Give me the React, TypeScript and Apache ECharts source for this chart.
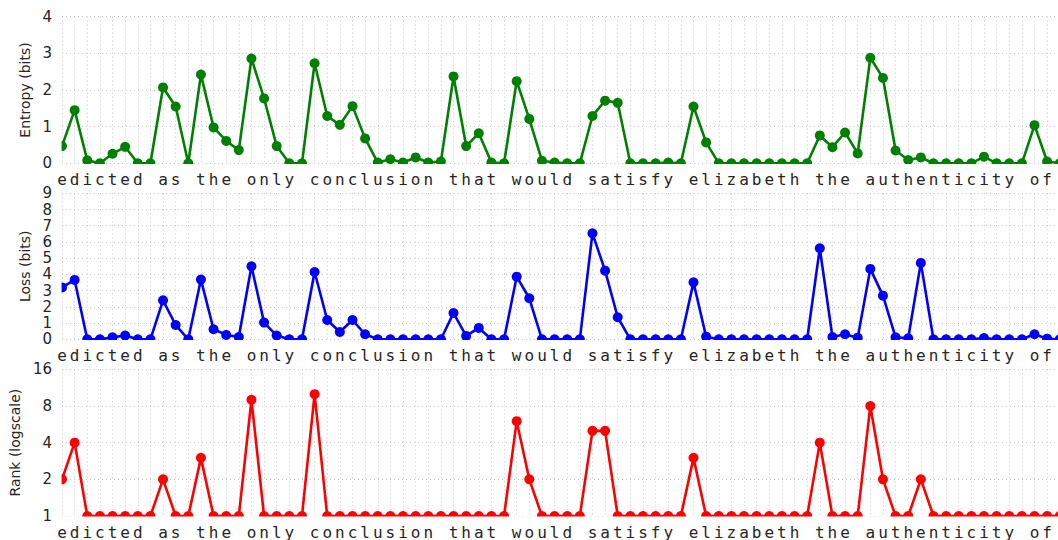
import React, { useEffect, useRef } from "react";
import * as echarts from "echarts";

// ---- data ----
const TEXT = "edicted as the only conclusion that would satisfy elizabeth the authenticity of ";
const chars: string[] = TEXT.split("");

const entropy: number[] = [
  0.47, 1.45, 0.08, 0, 0.26, 0.45, 0, 0, 2.07, 1.55,
  0, 2.42, 0.98, 0.61, 0.36, 2.86, 1.77, 0.47, 0, 0,
  2.73, 1.29, 1.05, 1.56, 0.68, 0.02, 0.11, 0.02, 0.16, 0.02,
  0.05, 2.37, 0.47, 0.82, 0.02, 0, 2.24, 1.21, 0.07, 0.02,
  0, 0, 1.29, 1.71, 1.65, 0, 0, 0, 0.02, 0,
  1.55, 0.57, 0, 0, 0, 0, 0, 0, 0, 0,
  0.76, 0.44, 0.84, 0.27, 2.88, 2.33, 0.35, 0.09, 0.16, 0,
  0, 0, 0, 0.18, 0, 0, 0, 1.04, 0.05, 0,
];

const loss: number[] = [
  3.2, 3.66, 0, 0, 0.12, 0.23, 0, 0, 2.4, 0.88,
  0, 3.68, 0.62, 0.27, 0.14, 4.5, 1.03, 0.23, 0, 0,
  4.15, 1.19, 0.45, 1.19, 0.31, 0, 0, 0, 0, 0,
  0, 1.62, 0.21, 0.7, 0, 0, 3.86, 2.53, 0, 0,
  0, 0, 6.53, 4.23, 1.36, 0, 0, 0, 0, 0,
  3.51, 0.16, 0, 0, 0, 0, 0, 0, 0, 0,
  5.61, 0.14, 0.31, 0.1, 4.34, 2.69, 0.12, 0.06, 4.71, 0,
  0, 0, 0, 0.08, 0, 0, 0, 0.31, 0.04, 0,
];

const rank: number[] = [
  2, 4, 1, 1, 1, 1, 1, 1, 2, 1,
  1, 3, 1, 1, 1, 9, 1, 1, 1, 1,
  10, 1, 1, 1, 1, 1, 1, 1, 1, 1,
  1, 1, 1, 1, 1, 1, 6, 2, 1, 1,
  1, 1, 5, 5, 1, 1, 1, 1, 1, 1,
  3, 1, 1, 1, 1, 1, 1, 1, 1, 1,
  4, 1, 1, 1, 8, 2, 1, 1, 2, 1,
  1, 1, 1, 1, 1, 1, 1, 1, 1, 1,
];

const yTitles = ["Entropy (bits)", "Loss (bits)", "Rank (logscale)"];
const colors = ["#008000", "#0000ff", "#ff0000"];

// ---- layout ----
const W = 1058;
const H = 540;
const LEFT = 62;
const STEP = 12.63;
const PLOT_W = STEP * (chars.length - 1);
const panels = [
  { top: 16.7, height: 146.6, nameGap: 25 },
  { top: 193.3, height: 146, nameGap: 25 },
  { top: 369.3, height: 146.7, nameGap: 35 },
];
const TEXT_COLOR = "#262626";
const GRID_COLOR = "#c8c8c8";

export default function App() {
  const ref = useRef<HTMLDivElement>(null);

  useEffect(() => {
    if (!ref.current) return;
    const chart = echarts.init(ref.current, undefined, { renderer: "svg" });
    const seriesValues = [entropy, loss, rank];

    const grid = panels.map((p) => ({
      left: LEFT,
      top: p.top,
      width: PLOT_W,
      height: p.height,
      containLabel: false,
      outerBoundsMode: "none",
    }));

    const xAxis = panels.map((_, i) => ({
      type: "value",
      gridIndex: i,
      min: 0,
      max: chars.length - 1,
      interval: 1,
      axisLine: { show: false },
      axisTick: { show: false },
      axisLabel: {
        show: true,
        margin: 8,
        fontFamily: "DejaVu Sans Mono",
        fontSize: 16,
        lineHeight: 16,
        color: TEXT_COLOR,
        showMinLabel: true,
        showMaxLabel: true,
        formatter: (v: number) => chars[Math.round(v)] ?? "",
      },
      splitLine: {
        show: true,
        lineStyle: { color: GRID_COLOR, width: 1, type: [1, 3] },
      },
    }));

    const yBase = (i: number) => ({
      gridIndex: i,
      name: yTitles[i],
      nameLocation: "middle",
      nameGap: panels[i].nameGap,
      nameRotate: 90,
      nameTextStyle: { fontFamily: "DejaVu Sans", fontSize: 14, color: TEXT_COLOR },
      axisLine: { show: false },
      axisTick: { show: false },
      axisLabel: {
        margin: 10,
        fontFamily: "DejaVu Sans",
        fontSize: 15,
        lineHeight: 15,
        color: TEXT_COLOR,
      },
      splitLine: {
        show: true,
        lineStyle: { color: GRID_COLOR, width: 1, type: [1, 3] },
      },
    });

    const yAxis = [
      { ...yBase(0), type: "value", min: 0, max: 4, interval: 1 },
      { ...yBase(1), type: "value", min: 0, max: 9, interval: 1 },
      { ...yBase(2), type: "log", logBase: 2, min: 1, max: 16 },
    ];

    const series = seriesValues.map((vals, i) => ({
      type: "line",
      xAxisIndex: i,
      yAxisIndex: i,
      data: vals.map((v, j) => [j, v]),
      symbol: "circle",
      symbolSize: 10,
      showSymbol: true,
      clip: true,
      color: colors[i],
      itemStyle: { color: colors[i] },
      lineStyle: { color: colors[i], width: 2.6 },
      z: 3,
    }));

    // white masks emulating clipping of markers at the plot edges
    const graphic: any[] = [];
    panels.forEach((p) => {
      graphic.push({
        type: "rect",
        z: 100,
        silent: true,
        shape: { x: 53, y: p.top + p.height + 0.6, width: W, height: 5.6 },
        style: { fill: "#ffffff" },
      });
      graphic.push({
        type: "rect",
        z: 100,
        silent: true,
        shape: { x: 53, y: p.top - 6, width: LEFT - 53 - 0.4, height: p.height + 12 },
        style: { fill: "#ffffff" },
      });
    });

    chart.setOption({
      animation: false,
      backgroundColor: "#ffffff",
      grid,
      xAxis,
      yAxis,
      series,
      graphic,
    } as any);

    return () => chart.dispose();
  }, []);

  return (
    <div
      ref={ref}
      style={{ position: "fixed", left: 0, top: 0, width: W, height: H, background: "#fff" }}
    />
  );
}
